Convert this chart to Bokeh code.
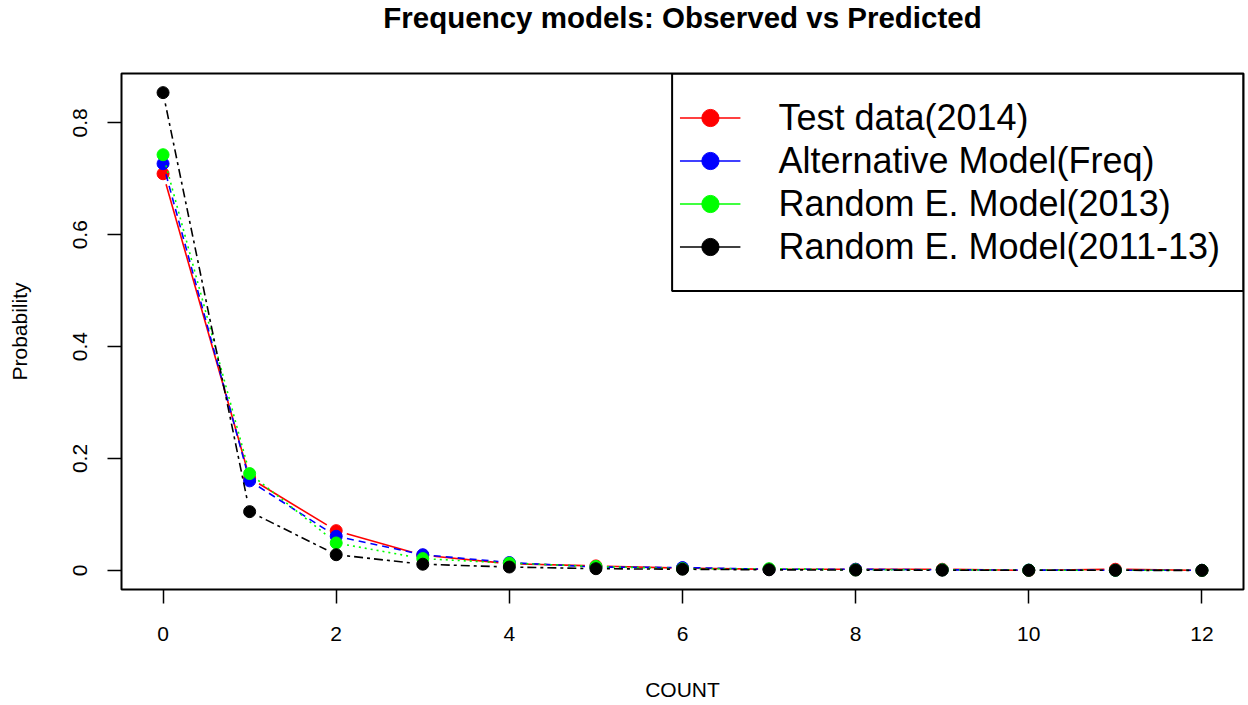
import math
from bokeh.plotting import figure
from bokeh.models import (Range1d, FixedTicker, Legend, LegendItem, BoxAnnotation,
                          ColumnDataSource, Title)
from bokeh.embed import file_html
from bokeh.resources import INLINE

# ---- data ----
counts = [0, 1, 2, 3, 4, 5, 6, 7, 8, 9, 10, 11, 12]
test_2014 = [0.709, 0.165, 0.071, 0.027, 0.012, 0.008, 0.004, 0.002, 0.002, 0.002, 0.0, 0.002, 0.0]
alt_freq = [0.727, 0.160, 0.061, 0.028, 0.014, 0.006, 0.005, 0.002, 0.002, 0.001, 0.0005, 0.0003, 0.0002]
re_2013 = [0.743, 0.173, 0.049, 0.021, 0.013, 0.007, 0.003, 0.003, 0.001, 0.001, 0.0004, 0.0002, 0.0001]
re_2011_13 = [0.854, 0.105, 0.028, 0.011, 0.006, 0.003, 0.002, 0.001, 0.0005, 0.0003, 0.0001, 0.0001, 0.0]

series_names = ["Test data(2014)", "Alternative Model(Freq)", "Random E. Model(2013)", "Random E. Model(2011-13)"]
series_values = [test_2014, alt_freq, re_2013, re_2011_13]
series_colors = ["#FF0000", "#0000FF", "#00FF00", "#000000"]
series_dashes = ["solid", "7 5", "2 4", "3 4 9 4"]

x_ticks = [0, 2, 4, 6, 8, 10, 12]
y_ticks = [0, 0.2, 0.4, 0.6, 0.8]
title_text = "Frequency models: Observed vs Predicted"

FONT = "Liberation Sans"
FW, FH = 1122, 516
X0, X1 = -0.48, 12.48
Y0, Y1 = -0.0342, 0.8882

p = figure(frame_width=FW, frame_height=FH, output_backend="svg", toolbar_location=None,
           x_range=Range1d(X0, X1), y_range=Range1d(Y0, Y1),
           min_border_left=121, min_border_right=3, min_border_top=73, min_border_bottom=10,
           background_fill_color="white", border_fill_color="white")

# title (outer) with an empty spacer panel between it and the frame
p.title.text = title_text
p.title.align = "center"
p.title.vertical_align = "top"
p.title.text_font = FONT
p.title.text_font_size = "29.5px"
p.title.text_font_style = "bold"
p.title.text_color = "black"
p.title.standoff = 0
spacer = Title(text=" ", text_font_size="10px", standoff=25)
p.add_layout(spacer, "above")

p.outline_line_color = "black"
p.outline_line_width = 2
p.xgrid.visible = False
p.ygrid.visible = False

for ax in (p.xaxis[0], p.yaxis[0]):
    ax.axis_line_color = None
    ax.major_tick_line_color = "black"
    ax.major_tick_line_width = 1.5
    ax.major_tick_out = 14
    ax.major_tick_in = 0
    ax.minor_tick_line_color = None
    ax.major_label_text_font = FONT
    ax.major_label_text_font_size = "21px"
    ax.major_label_text_color = "black"
    ax.axis_label_text_font = FONT
    ax.axis_label_text_font_size = "21px"
    ax.axis_label_text_font_style = "normal"
    ax.axis_label_text_color = "black"

p.xaxis.ticker = FixedTicker(ticks=x_ticks)
p.xaxis.major_label_standoff = 23
p.xaxis.axis_label = "COUNT"
p.xaxis.axis_label_standoff = 34

p.yaxis.ticker = FixedTicker(ticks=y_ticks)
p.yaxis.major_label_overrides = {0: "0"}
p.yaxis.major_label_orientation = "vertical"
p.yaxis.major_label_standoff = 20
p.yaxis.axis_label = "Probability"
p.yaxis.axis_label_standoff = 40

# pixels per data unit, used to leave R-style (type="b") gaps round the points
sx = FW / (X1 - X0)
sy = FH / (Y1 - Y0)
GAP = 11.0

items = []
for name, vals, col, dash in zip(series_names, series_values, series_colors, series_dashes):
    x0s, y0s, x1s, y1s = [], [], [], []
    for i in range(len(counts) - 1):
        dxp = (counts[i + 1] - counts[i]) * sx
        dyp = (vals[i + 1] - vals[i]) * sy
        L = math.hypot(dxp, dyp)
        if L <= 2 * GAP:
            continue
        f = GAP / L
        x0s.append(counts[i] + f * (counts[i + 1] - counts[i]))
        y0s.append(vals[i] + f * (vals[i + 1] - vals[i]))
        x1s.append(counts[i + 1] - f * (counts[i + 1] - counts[i]))
        y1s.append(vals[i + 1] - f * (vals[i + 1] - vals[i]))
    seg = ColumnDataSource(dict(x0=x0s, y0=y0s, x1=x1s, y1=y1s))
    p.segment("x0", "y0", "x1", "y1", source=seg, line_color=col, line_width=1.6, line_dash=dash)
    src = ColumnDataSource(dict(x=counts, y=vals))
    p.scatter("x", "y", source=src, size=12, fill_color=col, line_color=col)
    # legend proxies (solid line + dot, as in the reference legend); NaN = not drawn on the plot
    proxy = ColumnDataSource(dict(x=[float("nan")], y=[float("nan")]))
    pl = p.line("x", "y", source=proxy, line_color=col, line_width=1.6)
    ps = p.scatter("x", "y", source=proxy, size=15, fill_color=col, line_color=col)
    items.append(LegendItem(label=name, renderers=[pl, ps]))

legend_box = BoxAnnotation(left=5.88, bottom=0.4995, fill_alpha=0,
                           line_color="black", line_alpha=1.0, line_width=2)
p.add_layout(legend_box)

legend = Legend(items=items, location="top_right", margin=0, padding=23, spacing=0,
                label_height=43, glyph_height=43, glyph_width=61, label_standoff=38,
                label_text_font=FONT, label_text_font_size="36px", label_text_color="black",
                border_line_alpha=0, background_fill_alpha=0)
p.add_layout(legend)

open("out.html", "w").write(file_html(p, INLINE))
